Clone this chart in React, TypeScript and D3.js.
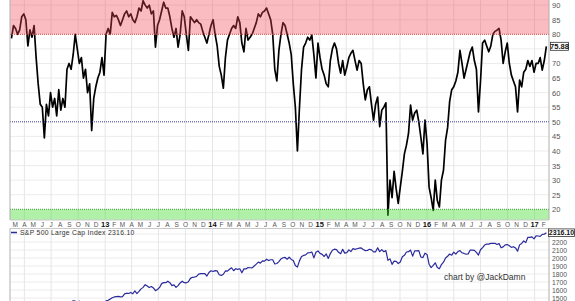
import React from 'react';
import * as d3 from 'd3';

const W = 575;
const H = 301;

const startDate = new Date(2012, 1, 17);

// % of stocks indicator, weekly readings (Feb 17 2012 .. Feb 10 2017)
const pctValues = [
  78.6, 83, 82, 80, 81.5, 86, 87, 85, 76, 81.5,
  79, 83, 72, 63, 56, 55, 44.5, 56, 52, 60,
  55, 58, 52, 61, 54, 58, 55, 68, 70, 68,
  73, 80, 75, 70, 72, 65, 68, 60, 63, 47,
  58, 62, 65, 67, 72, 66, 80, 82, 80, 87.5,
  86, 86.5, 85, 83, 85, 87, 88, 86, 87, 85,
  84, 86, 89, 88, 91.5, 90, 89, 90, 87, 88,
  75.6, 83, 85, 88, 91, 89, 89, 86, 82, 79,
  82, 75.6, 80, 88, 86, 80, 74.5, 86, 85, 84,
  85, 84, 83.5, 81, 79, 77, 80, 83, 85, 80,
  76, 69, 66, 61.5, 72, 78, 80, 82, 83, 82,
  86, 84, 77, 74, 82, 78, 79, 80, 82, 84,
  87, 86, 87.5, 88, 89, 87, 85, 80, 68, 64,
  74.5, 80, 84, 83, 80, 77, 73, 63, 55, 40,
  55, 68, 75.6, 77, 79, 78, 79.7, 73, 65, 77,
  72, 68, 66, 63, 62, 71, 75, 77, 75, 70,
  66.7, 71, 66, 68.7, 72, 73.5, 74.5, 71, 67.7, 71,
  70, 63, 57.5, 61, 62, 56, 50.6, 56, 58.5, 48.3,
  54, 55, 56.5, 18, 30, 24, 33, 27, 22, 27.6,
  33, 39, 42, 46, 55.7, 50.6, 53, 54, 50, 44.7,
  39, 50.6, 42.7, 27.6, 24, 19.6, 30, 23, 20.8, 30,
  33.4, 43.6, 48, 57, 61, 62, 64, 67, 74.5, 70,
  65, 68, 71, 74, 75.6, 71, 68, 53.4, 64, 77,
  78, 76, 74, 76, 80, 81, 81.4, 82, 78, 70,
  74, 77, 70, 66, 64, 62, 53.4, 64.3, 62, 67,
  68, 71, 69, 71, 67, 70, 70, 72, 67.7, 71, 75.88,
];

// S&P 500 weekly closes
const spxValues = [
  1361, 1366, 1370, 1371, 1404, 1397, 1408, 1398, 1370, 1378,
  1403, 1369, 1353, 1295, 1318, 1278, 1325, 1343, 1335, 1362,
  1355, 1357, 1363, 1386, 1391, 1405, 1418, 1411, 1407, 1438,
  1466, 1460, 1441, 1460, 1428, 1433, 1411, 1414, 1380, 1359,
  1409, 1416, 1418, 1413, 1430, 1402, 1466, 1472, 1486, 1503,
  1513, 1518, 1520, 1515, 1518, 1551, 1560, 1556, 1569, 1553,
  1588, 1555, 1582, 1614, 1633, 1667, 1650, 1631, 1643, 1626,
  1592, 1606, 1632, 1680, 1692, 1691, 1710, 1691, 1655, 1664,
  1633, 1655, 1688, 1710, 1692, 1690, 1703, 1745, 1759, 1762,
  1771, 1798, 1804, 1806, 1805, 1775, 1818, 1841, 1831, 1842,
  1838, 1790, 1782, 1797, 1838, 1836, 1859, 1878, 1841, 1866,
  1857, 1865, 1815, 1864, 1863, 1881, 1878, 1877, 1900, 1924,
  1949, 1936, 1963, 1961, 1985, 1968, 1978, 1978, 1925, 1931,
  1955, 1988, 2003, 2007, 1985, 2010, 1982, 1968, 1906, 1886,
  1964, 2018, 2032, 2039, 2064, 2068, 2075, 2002, 2071, 2088,
  2058, 2045, 2019, 2051, 1995, 2055, 2097, 2110, 2105, 2071,
  2053, 2108, 2061, 2067, 2102, 2081, 2117, 2108, 2116, 2123,
  2126, 2107, 2092, 2094, 2110, 2101, 2077, 2077, 2127, 2080,
  2104, 2078, 2092, 1971, 1989, 1921, 1961, 1958, 1931, 1951,
  2015, 2033, 2075, 2079, 2099, 2023, 2089, 2090, 2092, 2012,
  2005, 2060, 2044, 1922, 1880, 1907, 1940, 1880, 1865, 1918,
  1948, 2000, 2022, 2050, 2035, 2073, 2048, 2081, 2092, 2065,
  2057, 2047, 2052, 2099, 2099, 2096, 2071, 2037, 2103, 2130,
  2162, 2175, 2174, 2183, 2184, 2184, 2169, 2180, 2128, 2139,
  2165, 2168, 2153, 2133, 2141, 2126, 2085, 2164, 2182, 2213,
  2192, 2259, 2258, 2264, 2239, 2277, 2275, 2271, 2295, 2297, 2316.10,
];

const monthLetters = ['J', 'F', 'M', 'A', 'M', 'J', 'J', 'A', 'S', 'O', 'N', 'D'];
const pctTicks = [90, 85, 80, 70, 65, 60, 55, 50, 45, 40, 35, 30, 25, 20];
const pctGrid = [90, 85, 75, 70, 65, 60, 55, 45, 40, 35, 30, 25];
const spxTicks = [2200, 2100, 2000, 1900, 1800, 1700, 1600, 1500];
const spxGrid = [2300, 2200, 2100, 2000, 1900, 1800, 1700, 1600, 1500];
const lastPct = '75.88';
const lastSpx = '2316.10';
const legendLabel = 'S&P 500 Large Cap Index 2316.10';
const credit = 'chart by @JackDamn';

const FONT = "'Liberation Sans', Arial, sans-serif";

export default function App() {
  const L = 10;
  const R = 549;
  const topT = 0;
  const topB = 220;
  const botT = 228.5;
  const botB = 301;

  const x = d3
    .scaleTime()
    .domain([new Date(2013, 0, 1), new Date(2017, 0, 1)])
    .range([105.2, 534.6]);
  const yP = d3.scaleLinear().domain([20, 80]).range([209.3, 34.3]);
  const yS = d3.scaleLinear().domain([1500, 2200]).range([298, 242]);

  const pctData = pctValues.map((v, i) => ({ d: d3.timeDay.offset(startDate, 7 * i), v }));
  const spxData = spxValues.map((v, i) => ({ d: d3.timeDay.offset(startDate, 7 * i), v }));

  const pctLine = d3
    .line<{ d: Date; v: number }>()
    .x((p) => x(p.d))
    .y((p) => yP(p.v));
  const spxLine = d3
    .line<{ d: Date; v: number }>()
    .x((p) => x(p.d))
    .y((p) => yS(p.v));

  const quarterLines = d3.timeMonth
    .every(3)!
    .range(new Date(2012, 2, 1), new Date(2017, 2, 1));
  const months = d3.timeMonth.range(new Date(2012, 2, 1), new Date(2017, 2, 1));

  return (
    <svg
      width={W}
      height={H}
      style={{ position: 'absolute', left: 0, top: 0, background: '#fff' }}
      fontFamily={FONT}
    >
      <defs>
        <clipPath id="topClip">
          <rect x={L} y={topT} width={R - L} height={topB - topT} />
        </clipPath>
        <clipPath id="botClip">
          <rect x={L} y={botT} width={R - L} height={botB - botT} />
        </clipPath>
      </defs>
      <rect x={0} y={0} width={W} height={H} fill="#fff" />

      {/* top panel grid */}
      {pctGrid.map((v) => (
        <line key={'hg' + v} x1={L} x2={R} y1={yP(v)} y2={yP(v)} stroke="#ececec" strokeWidth={1} />
      ))}
      {quarterLines.map((d) => (
        <line key={'vg' + d.getTime()} x1={x(d)} x2={x(d)} y1={topT} y2={topB} stroke="#e6e6e6" strokeWidth={1} />
      ))}

      {/* indicator line */}
      <path
        d={pctLine(pctData) || ''}
        fill="none"
        stroke="#000"
        strokeWidth={1.7}
        strokeLinejoin="round"
        clipPath="url(#topClip)"
      />

      {/* overbought / oversold zones drawn over the line */}
      <rect x={L} y={topT} width={R - L} height={yP(80) - topT} fill="rgb(240,70,80)" fillOpacity={0.36} />
      <rect x={L} y={yP(20)} width={R - L} height={topB - yP(20)} fill="rgb(70,220,50)" fillOpacity={0.42} />
      <line x1={L} x2={R} y1={yP(80)} y2={yP(80)} stroke="#d04848" strokeWidth={1} strokeDasharray="1,1" />
      <line x1={L} x2={R} y1={yP(50)} y2={yP(50)} stroke="#3a3a9a" strokeWidth={1} strokeDasharray="1,1" />
      <line x1={L} x2={R} y1={yP(20)} y2={yP(20)} stroke="#3aa03a" strokeWidth={1} strokeDasharray="1,1" />

      {/* top panel frame */}
      <line x1={L} x2={L} y1={topT} y2={topB} stroke="#b0b0b0" strokeWidth={1} />
      <line x1={R} x2={R} y1={topT} y2={topB} stroke="#b0b0b0" strokeWidth={1} />
      <line x1={L} x2={R} y1={topB} y2={topB} stroke="#c8c8c8" strokeWidth={1} />

      {/* right axis labels, top */}
      {pctTicks.map((v) => (
        <text key={'pt' + v} x={552} y={yP(v) + 3} fontSize={7.5} fill="#555">
          {v}
        </text>
      ))}
      <rect x={550.5} y={yP(75.88) - 4} width={18} height={8} fill="#fff" stroke="#333" strokeWidth={0.8} />
      <text x={559.5} y={yP(75.88) + 2.8} fontSize={7.5} fontWeight="bold" fill="#111" textAnchor="middle">
        {lastPct}
      </text>

      {/* month labels */}
      {months.map((d) => {
        const isYear = d.getMonth() === 0;
        return (
          <text
            key={'m' + d.getTime()}
            x={x(d)}
            y={227}
            fontSize={isYear ? 7.5 : 6.5}
            fontWeight={isYear ? 'bold' : 'normal'}
            fill={isYear ? '#111' : '#555'}
            textAnchor="middle"
          >
            {isYear ? d3.timeFormat('%y')(d) : monthLetters[d.getMonth()]}
          </text>
        );
      })}

      {/* bottom panel */}
      <line x1={L} x2={R} y1={botT} y2={botT} stroke="#c8c8c8" strokeWidth={1} />
      {spxGrid.map((v) => (
        <line key={'sg' + v} x1={L} x2={R} y1={yS(v)} y2={yS(v)} stroke="#ececec" strokeWidth={1} />
      ))}
      {quarterLines.map((d) => (
        <line key={'svg' + d.getTime()} x1={x(d)} x2={x(d)} y1={botT} y2={botB} stroke="#e6e6e6" strokeWidth={1} />
      ))}
      <line x1={L} x2={L} y1={botT} y2={botB} stroke="#b0b0b0" strokeWidth={1} />
      <line x1={R} x2={R} y1={botT} y2={botB} stroke="#b0b0b0" strokeWidth={1} />
      <path
        d={spxLine(spxData) || ''}
        fill="none"
        stroke="#2a2a9c"
        strokeWidth={1.2}
        strokeLinejoin="round"
        clipPath="url(#botClip)"
      />

      {/* legend */}
      <line x1={11} x2={17} y1={232.5} y2={232.5} stroke="#2a2a9c" strokeWidth={1.5} />
      <text x={20} y={235} fontSize={6.8} fill="#333" letterSpacing={0.3}>
        {legendLabel}
      </text>

      {/* right axis labels, bottom */}
      {spxTicks.map((v) => (
        <text key={'st' + v} x={552} y={yS(v) + 2.5} fontSize={6.8} fill="#555">
          {v}
        </text>
      ))}
      <rect x={548.5} y={yS(2316.1) - 3.8} width={26} height={7.6} fill="#fff" stroke="#333" strokeWidth={0.8} />
      <text x={561.5} y={yS(2316.1) + 2.5} fontSize={7} fontWeight="bold" fill="#111" textAnchor="middle">
        {lastSpx}
      </text>

      {/* credit */}
      <text x={444} y={280} fontSize={8.5} fill="#333">
        {credit}
      </text>
    </svg>
  );
}
